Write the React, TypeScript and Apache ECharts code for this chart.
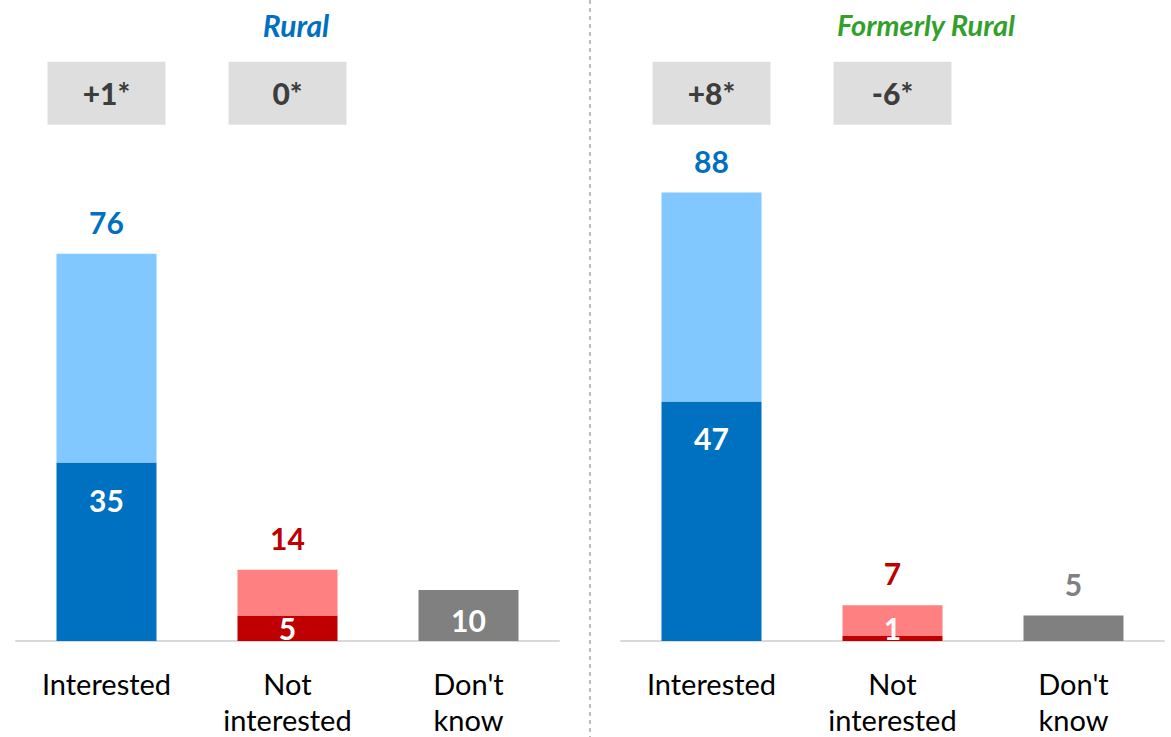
import React, { useEffect, useRef } from "react";
import * as echarts from "echarts";

const categories = ["Interested", "Not\ninterested", "Don't\nknow"];

const panelTitles = ["Rural", "Formerly Rural"];

const ruralBase = [35, 5, 10];
const ruralUpper = [41, 9, null];
const ruralTotals = [76, 14, 10];
const ruralChange = ["+1*", "0*"];

const formerBase = [47, 1, 5];
const formerUpper = [41, 6, null];
const formerTotals = [88, 7, 5];
const formerChange = ["+8*", "-6*"];

const FONT = "Lato, 'Open Sans', sans-serif";
const DARK = ["#0070C0", "#C00000", "#808080"];
const LIGHT = ["#80C8FF", "#FF8080", "#808080"];
const TOTAL_COLORS = ["#0070C0", "#C00000", "#808080"];

function buildPanel(idx: number, base: (number | null)[], upper: (number | null)[], totals: number[], change: string[]) {
  const labelBase = { fontFamily: FONT, fontWeight: "bold" as const, fontSize: 30 };
  const baseData = base.map((v, i) => {
    let label: any;
    if (i === 0) {
      label = { show: true, position: "insideTop", distance: 22, color: "#fff", ...labelBase };
    } else if (upper[i] != null) {
      label = { show: true, position: "insideBottom", distance: -2, color: "#fff", ...labelBase };
    } else if ((v as number) >= 8) {
      label = { show: true, position: "insideTop", distance: 15, color: "#fff", ...labelBase };
    } else {
      label = { show: true, position: "top", distance: 17, color: TOTAL_COLORS[i], ...labelBase };
    }
    return { value: v, itemStyle: { color: DARK[i] }, label };
  });
  const upperData = upper.map((v, i) => ({
    value: v,
    itemStyle: { color: LIGHT[i] },
    label: {
      show: v != null,
      position: "top",
      distance: 17,
      color: TOTAL_COLORS[i],
      formatter: () => String(totals[i]),
      ...labelBase,
    },
  }));
  const boxData = change.map((t, i) => ({
    value: [i, 107.5],
    label: {
      show: true,
      position: "inside",
      formatter: () => t,
      color: "#111",
      ...labelBase,
      fontWeight: 900,
    },
  }));
  return [
    {
      type: "bar",
      xAxisIndex: idx,
      yAxisIndex: idx,
      stack: "s" + idx,
      barWidth: 100,
      data: baseData,
    },
    {
      type: "bar",
      xAxisIndex: idx,
      yAxisIndex: idx,
      stack: "s" + idx,
      barWidth: 100,
      data: upperData,
    },
    {
      type: "scatter",
      xAxisIndex: idx,
      yAxisIndex: idx,
      symbol: "rect",
      symbolSize: [118, 63],
      itemStyle: { color: "#D6D6D6" },
      data: boxData,
      z: 1,
    },
  ];
}

export default function App() {
  const ref = useRef<HTMLDivElement>(null);
  useEffect(() => {
    if (!ref.current) return;
    const chart = echarts.init(ref.current, null, { renderer: "svg" });
    const xAxisCommon = {
      type: "category" as const,
      data: categories,
      axisLine: { show: true, lineStyle: { color: "#D9D9D9", width: 2 } },
      axisTick: { show: false },
      axisLabel: {
        color: "#000",
        fontFamily: FONT,
        fontSize: 29,
        lineHeight: 36,
        margin: 24,
        interval: 0,
      },
    };
    const yAxisCommon = {
      type: "value" as const,
      min: 0,
      max: 114,
      show: false,
      splitLine: { show: false },
    };
    chart.setOption({
      animation: false,
      backgroundColor: "#fff",
      title: [
        {
          text: panelTitles[0],
          left: 291,
          top: 5,
          textAlign: "center",
          textStyle: { color: "#0070C0", fontFamily: FONT, fontSize: 30, fontStyle: "italic", fontWeight: "bold" },
        },
        {
          text: panelTitles[1],
          left: 921,
          top: 5,
          textAlign: "center",
          textStyle: { color: "#33A02C", fontFamily: FONT, fontSize: 29, fontStyle: "italic", fontWeight: "bold" },
        },
      ],
      grid: [
        { left: 16, width: 543, top: 60, bottom: 92 },
        { left: 621, width: 543, top: 60, bottom: 92 },
      ],
      xAxis: [
        { ...xAxisCommon, gridIndex: 0 },
        { ...xAxisCommon, gridIndex: 1 },
      ],
      yAxis: [
        { ...yAxisCommon, gridIndex: 0 },
        { ...yAxisCommon, gridIndex: 1 },
      ],
      graphic: [
        {
          type: "line",
          shape: { x1: 590, y1: 0, x2: 590, y2: 737 },
          style: { stroke: "#A6A6A6", lineWidth: 1.5, lineDash: [4, 4] },
        },
      ],
      series: [
        ...buildPanel(0, ruralBase, ruralUpper, ruralTotals, ruralChange),
        ...buildPanel(1, formerBase, formerUpper, formerTotals, formerChange),
      ],
    });
    return () => chart.dispose();
  }, []);
  return (
    <div
      ref={ref}
      style={{ position: "fixed", left: 0, top: 0, width: 1171, height: 737 }}
    />
  );
}
